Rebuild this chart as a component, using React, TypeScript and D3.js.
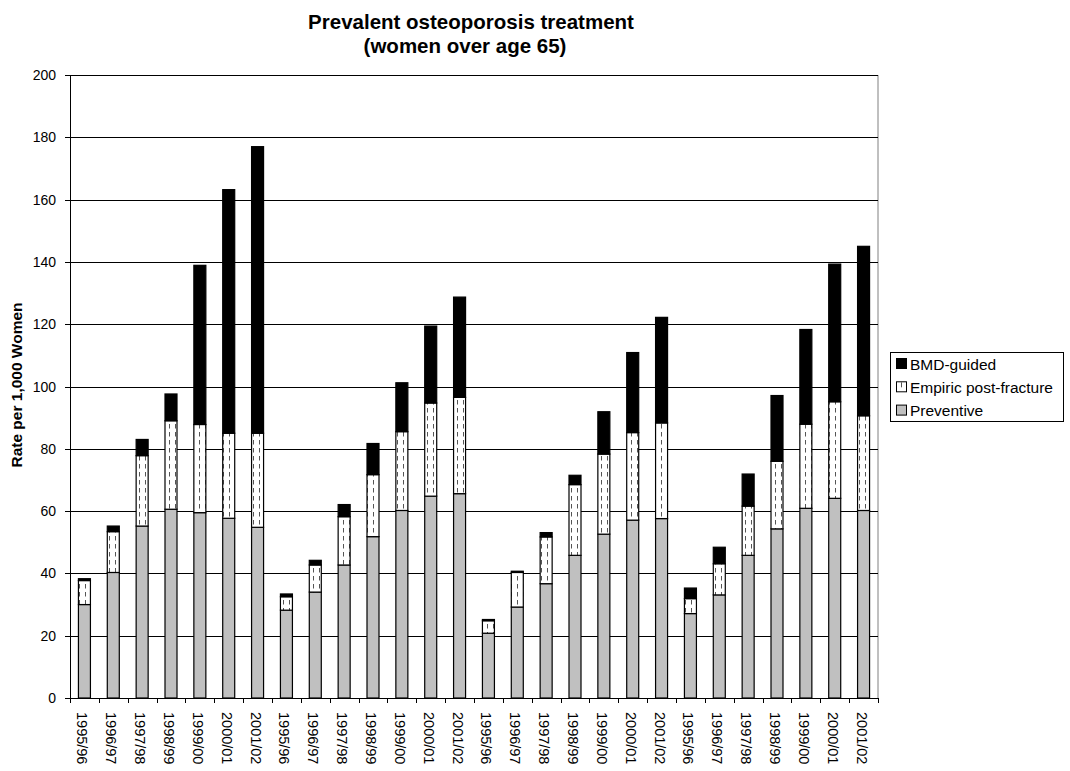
import React from "react";
import * as d3 from "d3";

const years = ["1995/96", "1996/97", "1997/98", "1998/99", "1999/00", "2000/01", "2001/02"];
const categories = [...years, ...years, ...years, ...years];

const preventive = [
  30.0, 40.3, 55.2, 60.6, 59.5, 57.7, 54.8,
  28.2, 34.0, 42.7, 51.8, 60.2, 64.8, 65.6,
  20.8, 29.2, 36.7, 45.8, 52.6, 57.1, 57.6,
  27.1, 33.1, 45.8, 54.3, 60.9, 64.1, 60.2,
];
const empiric = [
  7.7, 13.1, 22.6, 28.4, 28.3, 27.3, 30.2,
  4.3, 8.7, 15.5, 19.9, 25.3, 29.9, 30.9,
  4.0, 11.1, 15.0, 22.7, 25.7, 28.1, 30.7,
  4.8, 10.0, 15.8, 21.7, 27.0, 31.0, 30.4,
];
const bmd = [
  0.6, 1.8, 5.2, 8.6, 51.1, 78.2, 92.0,
  0.9, 1.5, 3.9, 10.0, 15.7, 24.7, 32.2,
  0.4, 0.4, 1.4, 3.0, 13.6, 25.7, 33.9,
  3.4, 5.3, 10.3, 21.1, 30.4, 44.2, 54.4,
];
const yTicks = [0, 20, 40, 60, 80, 100, 120, 140, 160, 180, 200];
const seriesNames = ["BMD-guided", "Empiric post-fracture", "Preventive"];

const FONT = "Arial, 'Liberation Sans', sans-serif";

export default function App() {
  const left = 70, right = 878, top = 75, bottom = 698;
  const x = d3.scaleBand<number>().domain(d3.range(categories.length)).range([left, right]).paddingInner(0).paddingOuter(0);
  const y = d3.scaleLinear().domain([0, 200]).range([bottom, top]);
  const bw = 12;

  const rows = categories.map((c, i) => ({ i, preventive: preventive[i], empiric: empiric[i], bmd: bmd[i] }));
  const stack = d3.stack<any>().keys(["preventive", "empiric", "bmd"])(rows);
  const fills: Record<string, string> = { preventive: "#C0C0C0", empiric: "url(#dashpat)", bmd: "#000000" };

  return (
    <svg width={1070} height={771} style={{ display: "block", position: "absolute", left: 0, top: 0 }} fontFamily={FONT}>
      <defs>
        <pattern id="dashpat" patternUnits="userSpaceOnUse" width={6} height={8}>
          <rect width={6} height={8} fill="#fff" />
          <line x1={1.5} y1={0} x2={1.5} y2={4.5} stroke="#555" strokeWidth={1} />
        </pattern>
      </defs>
      <rect width={1070} height={771} fill="#fff" />
      <text x={471} y={29} textAnchor="middle" fontSize={20.5} fontWeight="bold">Prevalent osteoporosis treatment</text>
      <text x={465} y={53} textAnchor="middle" fontSize={20.5} fontWeight="bold">(women over age 65)</text>

      {/* plot border right */}
      <line x1={right} y1={top} x2={right} y2={bottom} stroke="#808080" strokeWidth={1} />
      {/* gridlines */}
      {yTicks.filter(t => t > 0).map(t => (
        <line key={t} x1={left} x2={right} y1={Math.round(y(t)) + 0.5} y2={Math.round(y(t)) + 0.5} stroke="#000" strokeWidth={1} />
      ))}
      {/* y axis */}
      <line x1={left + 0.5} x2={left + 0.5} y1={top} y2={bottom} stroke="#000" />
      {yTicks.map(t => (
        <g key={t}>
          <line x1={left - 5} x2={left} y1={Math.round(y(t)) + 0.5} y2={Math.round(y(t)) + 0.5} stroke="#000" />
          <text x={56} y={y(t) + 5} textAnchor="end" fontSize={14}>{t}</text>
        </g>
      ))}
      <text transform={`translate(22,${385}) rotate(-90)`} textAnchor="middle" fontSize={15.5} fontWeight="bold">Rate per 1,000 Women</text>

      {/* bars */}
      {stack.map(s => (
        <g key={s.key}>
          {s.map((d, i) => {
            const cx = (x(i) as number) + x.bandwidth() / 2;
            return (
              <rect key={i} x={cx - bw / 2} y={y(d[1])} width={bw} height={Math.max(0, y(d[0]) - y(d[1]))}
                fill={fills[s.key]} stroke="#000" strokeWidth={1.2} />
            );
          })}
        </g>
      ))}

      {/* x axis */}
      <line x1={left} x2={right} y1={bottom + 0.5} y2={bottom + 0.5} stroke="#000" strokeWidth={1.2} />
      {d3.range(categories.length + 1).map(i => {
        const xx = Math.round(left + i * x.step()) + 0.5;
        return <line key={i} x1={xx} x2={xx} y1={bottom} y2={bottom + 5} stroke="#000" />;
      })}
      {categories.map((c, i) => {
        const cx = (x(i) as number) + x.bandwidth() / 2;
        return (
          <text key={i} transform={`translate(${cx - 7},${bottom + 14}) rotate(90)`} textAnchor="start" fontSize={14.5}>{c}</text>
        );
      })}

      {/* legend */}
      <rect x={890.5} y={352.5} width={173} height={69} fill="#fff" stroke="#000" strokeWidth={1} />
      {seriesNames.map((n, k) => {
        const key = ["bmd", "empiric", "preventive"][k];
        const yy = 364 + k * 23.3;
        return (
          <g key={n}>
            <rect x={896.5} y={yy - 5.5} width={10} height={10} fill={key === "empiric" ? "#fff" : fills[key]} stroke="#000" />
            {key === "empiric" && <line x1={901.5} x2={901.5} y1={yy - 5} y2={yy} stroke="#555" />}
            <text x={910} y={yy + 5.5} fontSize={15.5}>{n}</text>
          </g>
        );
      })}
    </svg>
  );
}
